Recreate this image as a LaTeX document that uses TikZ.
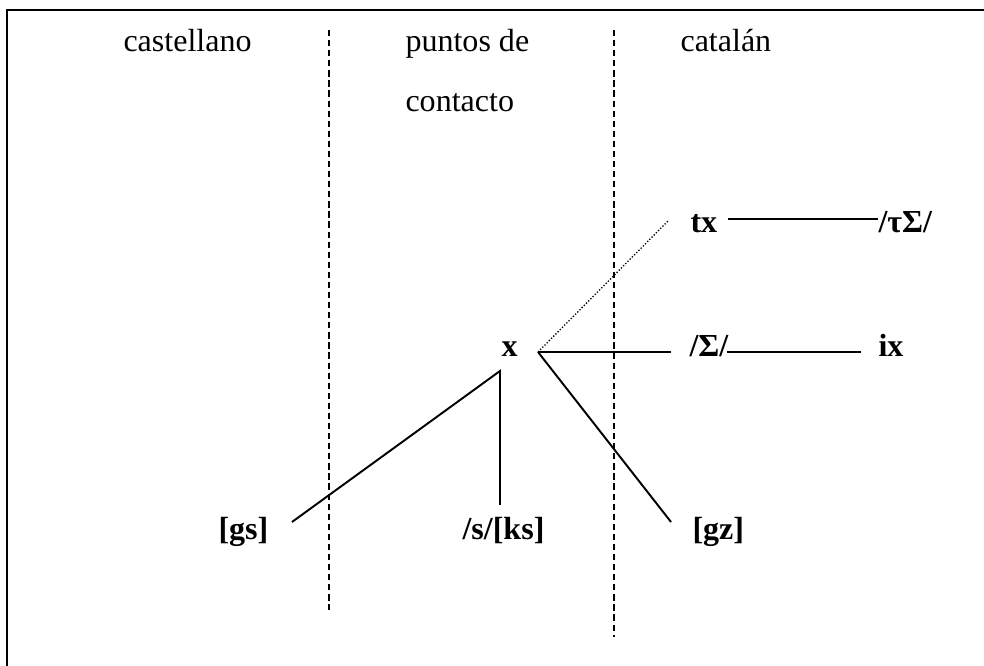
\documentclass[tikz,border=0pt]{standalone}
\usepackage{fontspec}
\setmainfont{Liberation Serif}
\usetikzlibrary{positioning}
\tikzset{
  lbl/.style={anchor=base west, inner sep=0pt, font=\fontsize{12.4}{14}\selectfont},
  phon/.style={anchor=base west, inner sep=0pt, font=\fontsize{12.4}{14}\selectfont\bfseries},
  sep/.style={line width=0.6pt, dash pattern=on 2.4pt off 1.5pt},
  link/.style={line width=0.75pt}
}

\begin{document}
\begin{tikzpicture}[x=0.387pt, y=-0.387pt]
\useasboundingbox (0,0) rectangle (984,666);
% frame
\draw[line width=0.9pt] (7,666) -- (7,10) -- (984,10);
% column separators
\draw[sep] (329,30) -- (329,610);
\draw[sep] (614,30) -- (614,637);
% headings
\node[lbl] (cast) at (123,52) {castellano};
\node[lbl] (punt) at (405,52) {puntos de};
\node[lbl] (cont) at (405,112) {contacto};
\node[lbl] (cata) at (680,52) {catalán};
% forms
\node[phon] (x) at (501,357) {x};
\node[phon] (tx) at (690,233) {tx};
\node[phon] (tsh) at (878,233) {/τΣ/};
\node[phon] (sh) at (689,357) {/Σ/};
\node[phon] (ix) at (878,357) {ix};
\node[phon] (gs) at (218,540) {[gs]};
\node[phon] (sks) at (462,540) {/s/[ks]};
\node[phon] (gz) at (692,540) {[gz]};
% branch points and line ends
\coordinate (apex) at (500,371);
\coordinate (fork) at (538,352);
\coordinate (gsend) at (292,522);
\coordinate (sksend) at (500,505);
\coordinate (gzend) at (671,522);
\coordinate (shend) at (671,352);
\coordinate (txend) at (668,221);
\coordinate (txr) at (728,219);
\coordinate (tshl) at (878,219);
\coordinate (shr) at (727,352);
\coordinate (ixl) at (861,352);
% links
\draw[link] (gsend) -- (apex) -- (sksend);
\draw[link] (fork) -- (gzend);
\draw[link] (fork) -- (shend);
\draw[line width=0.5pt, dash pattern=on 0.5pt off 0.7pt] (fork) -- (txend);
\draw[link] (txr) -- (tshl);
\draw[link] (shr) -- (ixl);
\end{tikzpicture}
\end{document}
